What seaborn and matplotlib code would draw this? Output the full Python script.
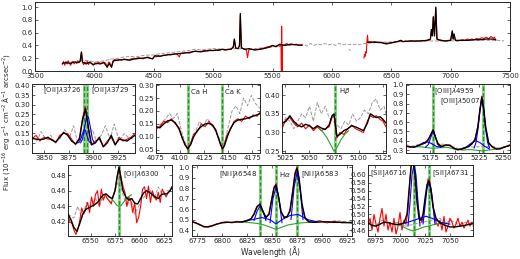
import numpy as np
import matplotlib
matplotlib.use("Agg")
import matplotlib.pyplot as plt
import seaborn as sns

# ---- full spectrum (top panel) ----
top_black1_wl = [3730, 3760, 3800, 3830, 3860, 3880, 3891, 3900, 3930, 3960, 3990, 4020, 4050, 4080, 4108, 4125, 4144, 4160, 4200, 4250,
                 4300, 4340, 4400, 4450, 4490, 4510, 4550, 4600, 4650, 4700, 4750, 4800, 4850, 4900, 4950, 5000, 5050, 5077, 5100, 5150,
                 5170, 5179, 5190, 5210, 5222, 5229, 5238, 5270, 5300, 5350, 5400, 5450, 5500, 5530, 5560, 5600, 5650, 5700, 5750]
top_black1_fl = [0.12, 0.13, 0.12, 0.14, 0.13, 0.15, 0.30, 0.14, 0.11, 0.14, 0.10, 0.12, 0.11, 0.13, 0.06, 0.12, 0.06, 0.16, 0.17, 0.18,
                 0.17, 0.19, 0.20, 0.21, 0.19, 0.24, 0.23, 0.25, 0.26, 0.27, 0.28, 0.29, 0.31, 0.30, 0.32, 0.32, 0.33, 0.34, 0.33, 0.34,
                 0.38, 0.50, 0.36, 0.35, 0.40, 0.90, 0.36, 0.34, 0.35, 0.33, 0.34, 0.36, 0.40, 0.38, 0.42, 0.40, 0.42, 0.41, 0.40]
top_black2_wl = [6300, 6350, 6400, 6450, 6500, 6550, 6579, 6600, 6650, 6700, 6750, 6800, 6830, 6838, 6846, 6854, 6864, 6875, 6885, 6920,
                 6960, 7000, 7014, 7021, 7029, 7040, 7080, 7150, 7200, 7250, 7300, 7350, 7380]
top_black2_fl = [0.45, 0.45, 0.45, 0.43, 0.44, 0.46, 0.48, 0.46, 0.47, 0.47, 0.47, 0.48, 0.50, 0.65, 0.55, 0.85, 0.55, 1.0, 0.50, 0.48,
                 0.47, 0.48, 0.63, 0.50, 0.58, 0.48, 0.48, 0.48, 0.49, 0.49, 0.50, 0.50, 0.49]
top_red1_wl = [3730, 3740, 3750, 3760, 3770, 3780, 3790, 3800, 3810, 3820, 3830, 3840, 3850, 3860, 3870, 3880, 3891, 3900, 3910, 3920,
               3930, 3940, 3950, 3960, 3975, 3990, 4005, 4020, 4035, 4050, 4065, 4080, 4095, 4108, 4120, 4130, 4144, 4155, 4170, 4190,
               4210, 4230, 4250, 4270, 4290, 4310, 4330, 4350, 4370, 4390, 4410, 4430, 4450, 4470, 4490, 4505, 4520, 4540, 4560, 4580,
               4600, 4620, 4640, 4660, 4680, 4700, 4715, 4725, 4750, 4775, 4800, 4825, 4850, 4875, 4900, 4925, 4950, 4975, 5000, 5025,
               5050, 5077, 5100, 5125, 5150, 5170, 5179, 5188, 5210, 5222, 5229, 5238, 5260, 5280, 5290, 5300, 5320, 5350, 5380, 5400,
               5430, 5460, 5480, 5500, 5520, 5540, 5560, 5572, 5575, 5577, 5580, 5583, 5600, 5620, 5640, 5660, 5680, 5700, 5720, 5750]
top_red1_fl = [0.10, 0.15, 0.09, 0.14, 0.11, 0.16, 0.12, 0.09, 0.13, 0.15, 0.11, 0.14, 0.12, 0.16, 0.13, 0.15, 0.29, 0.13, 0.10, 0.14,
               0.12, 0.15, 0.10, 0.13, 0.12, 0.09, 0.13, 0.11, 0.14, 0.12, 0.13, 0.14, 0.12, 0.06, 0.14, 0.13, 0.06, 0.15, 0.18, 0.17,
               0.18, 0.17, 0.19, 0.18, 0.17, 0.19, 0.20, 0.19, 0.21, 0.20, 0.19, 0.21, 0.22, 0.20, 0.19, 0.23, 0.22, 0.24, 0.23, 0.25,
               0.24, 0.26, 0.25, 0.26, 0.27, 0.26, 0.22, 0.27, 0.28, 0.29, 0.28, 0.30, 0.31, 0.30, 0.31, 0.32, 0.31, 0.33, 0.32, 0.33,
               0.32, 0.34, 0.33, 0.34, 0.34, 0.37, 0.50, 0.36, 0.35, 0.40, 0.88, 0.37, 0.34, 0.33, 0.21, 0.33, 0.34, 0.33, 0.34, 0.35,
               0.36, 0.38, 0.37, 0.40, 0.38, 0.40, 0.39, 0.41, 0.0, 0.70, 0.0, 0.40, 0.41, 0.43, 0.40, 0.42, 0.41, 0.42, 0.40, 0.41]
top_red2_wl = [6270, 6275, 6280, 6285, 6290, 6295, 6300, 6305, 6320, 6340, 6360, 6380, 6400, 6420, 6440, 6460, 6480, 6500, 6520, 6540,
               6560, 6580, 6600, 6620, 6640, 6660, 6680, 6700, 6720, 6740, 6760, 6780, 6800, 6820, 6830, 6838, 6846, 6854, 6864, 6875,
               6885, 6900, 6920, 6940, 6960, 6980, 7000, 7014, 7021, 7029, 7040, 7060, 7080, 7100, 7120, 7140, 7160, 7180, 7200, 7220,
               7240, 7260, 7280, 7300, 7320, 7340, 7360, 7370, 7380]
top_red2_fl = [0.20, 0.26, 0.23, 0.30, 0.28, 0.45, 0.56, 0.45, 0.46, 0.45, 0.46, 0.45, 0.44, 0.45, 0.43, 0.42, 0.43, 0.44, 0.45, 0.46,
               0.46, 0.47, 0.46, 0.47, 0.46, 0.47, 0.47, 0.46, 0.47, 0.47, 0.48, 0.47, 0.48, 0.48, 0.50, 0.64, 0.55, 0.84, 0.55, 0.99,
               0.50, 0.48, 0.48, 0.47, 0.47, 0.48, 0.48, 0.62, 0.50, 0.57, 0.48, 0.47, 0.48, 0.49, 0.48, 0.50, 0.49, 0.50, 0.49, 0.51,
               0.50, 0.52, 0.51, 0.53, 0.50, 0.54, 0.51, 0.53, 0.48]
top_gray_wl = [3750, 3800, 3850, 3900, 3950, 4000, 4050, 4100, 4150, 4200, 4250, 4300, 4350, 4400, 4450, 4500, 4550, 4600, 4650, 4700,
               4750, 4800, 4850, 4900, 4950, 5000, 5100, 5200, 5300, 5400, 5500, 5600, 5700, 5760, 5790, 5820, 5850, 5880, 5910, 5940,
               5970, 6000, 6030, 6060, 6090, 6120, 6180, 6210, 6240, 6270, 6400, 6600, 6800, 7000, 7200, 7400, 7450]
top_gray_fl = [0.15, 0.14, 0.15, 0.17, 0.16, 0.14, 0.15, 0.17, 0.19, 0.20, 0.22, 0.23, 0.22, 0.24, 0.25, 0.25, 0.27, 0.28, 0.29, 0.30,
               0.31, 0.32, 0.34, 0.33, 0.34, 0.35, 0.34, 0.35, 0.34, 0.36, 0.38, 0.40, 0.41, 0.42, 0.39, 0.43, 0.40, 0.42, 0.41, 0.43,
               0.41, 0.42, 0.40, 0.43, 0.41, 0.42, 0.41, 0.42, 0.41, 0.43, 0.45, 0.46, 0.47, 0.47, 0.48, 0.48, 0.47]
top_gray_dip_wl = [6145, 6155]
top_gray_dip_fl = [0.34, 0.32]

# ---- [OII] ----
oii_wl = [3838, 3842, 3846, 3850, 3854, 3858, 3862, 3866, 3870, 3874, 3878, 3882, 3886, 3889, 3892, 3895, 3898, 3902, 3906, 3910,
          3914, 3918, 3922, 3926, 3930, 3934, 3938, 3942]
oii_fit = [0.125, 0.12, 0.118, 0.12, 0.13, 0.115, 0.105, 0.13, 0.155, 0.14, 0.11, 0.095, 0.12, 0.22, 0.28, 0.18, 0.09, 0.10, 0.13, 0.08,
           0.10, 0.14, 0.09, 0.12, 0.115, 0.11, 0.125, 0.14]
oii_obs = [0.12, 0.14, 0.11, 0.13, 0.12, 0.12, 0.10, 0.14, 0.15, 0.15, 0.12, 0.09, 0.13, 0.23, 0.29, 0.17, 0.09, 0.11, 0.12, 0.08,
           0.11, 0.13, 0.09, 0.13, 0.11, 0.12, 0.13, 0.15]
oii_gray_wl = [3838, 3843, 3847, 3852, 3857, 3861, 3866, 3871, 3876, 3880, 3884, 3889, 3894, 3899, 3903, 3908, 3912, 3917, 3921, 3926,
               3931, 3935, 3940]
oii_gray_fl = [0.13, 0.11, 0.16, 0.12, 0.14, 0.10, 0.12, 0.17, 0.13, 0.19, 0.10, 0.15, 0.13, 0.17, 0.11, 0.14, 0.19, 0.12, 0.20, 0.11,
               0.15, 0.13, 0.12]
oii_blue1_wl = [3884, 3886, 3888, 3890, 3891, 3892, 3894, 3896, 3898]
oii_blue1_fl = [0.10, 0.105, 0.13, 0.165, 0.17, 0.165, 0.13, 0.105, 0.10]
oii_blue2_wl = [3887, 3889, 3891, 3893, 3894, 3895, 3897, 3899, 3901]
oii_blue2_fl = [0.10, 0.12, 0.18, 0.235, 0.24, 0.235, 0.18, 0.12, 0.10]

# ---- Ca H / Ca K ----
ca_wl = [4075, 4079, 4083, 4087, 4091, 4095, 4099, 4102, 4105, 4108, 4111, 4114, 4118, 4122, 4126, 4130, 4134, 4137, 4140, 4142,
         4144, 4146, 4149, 4152, 4156, 4160, 4164, 4168, 4172, 4176, 4180, 4183]
ca_fit = [0.14, 0.135, 0.15, 0.162, 0.165, 0.155, 0.13, 0.10, 0.07, 0.055, 0.07, 0.10, 0.125, 0.14, 0.15, 0.152, 0.145, 0.125, 0.095, 0.07,
          0.055, 0.065, 0.10, 0.13, 0.155, 0.165, 0.168, 0.17, 0.175, 0.18, 0.185, 0.19]
ca_obs = [0.13, 0.14, 0.16, 0.155, 0.17, 0.15, 0.135, 0.095, 0.075, 0.05, 0.075, 0.11, 0.12, 0.15, 0.14, 0.16, 0.14, 0.13, 0.09, 0.075,
          0.05, 0.07, 0.11, 0.125, 0.16, 0.17, 0.16, 0.18, 0.17, 0.185, 0.18, 0.195]
ca_gray_wl = [4075, 4080, 4085, 4089, 4093, 4097, 4101, 4105, 4108, 4112, 4116, 4120, 4124, 4128, 4133, 4140, 4144, 4147, 4150, 4154,
              4158, 4162, 4166, 4170, 4174, 4178, 4183]
ca_gray_fl = [0.13, 0.15, 0.17, 0.19, 0.17, 0.19, 0.13, 0.08, 0.06, 0.09, 0.12, 0.16, 0.14, 0.17, 0.15, 0.10, 0.06, 0.09, 0.14, 0.20,
              0.22, 0.19, 0.25, 0.22, 0.26, 0.23, 0.21]

# ---- Hbeta ----
hb_wl = [5022, 5026, 5030, 5034, 5038, 5042, 5046, 5050, 5054, 5058, 5062, 5066, 5070, 5073, 5075, 5078, 5081, 5085, 5089, 5093,
         5097, 5101, 5105, 5109, 5112, 5115, 5118, 5122, 5125, 5128]
hb_fit = [0.325, 0.33, 0.345, 0.33, 0.32, 0.315, 0.322, 0.318, 0.31, 0.318, 0.312, 0.308, 0.32, 0.345, 0.35, 0.29, 0.295, 0.305, 0.31, 0.318,
          0.315, 0.31, 0.305, 0.325, 0.35, 0.345, 0.34, 0.342, 0.335, 0.325]
hb_obs = [0.31, 0.335, 0.34, 0.325, 0.315, 0.325, 0.31, 0.32, 0.305, 0.315, 0.305, 0.31, 0.315, 0.34, 0.345, 0.285, 0.30, 0.295, 0.31, 0.32,
          0.31, 0.305, 0.30, 0.33, 0.345, 0.34, 0.345, 0.335, 0.33, 0.315]
hb_gray_wl = [5022, 5026, 5030, 5034, 5038, 5042, 5046, 5050, 5054, 5058, 5062, 5066, 5070, 5082, 5086, 5090, 5094, 5098, 5102, 5106,
              5110, 5114, 5118, 5122, 5126, 5128]
hb_gray_fl = [0.32, 0.34, 0.33, 0.31, 0.33, 0.35, 0.34, 0.37, 0.33, 0.38, 0.35, 0.37, 0.34, 0.31, 0.33, 0.32, 0.35, 0.33, 0.34, 0.36,
              0.35, 0.38, 0.39, 0.36, 0.37, 0.35]
hb_star_wl = [5060, 5064, 5068, 5071, 5073, 5075, 5077, 5079, 5082, 5086, 5090]
hb_star_fl = [0.31, 0.30, 0.285, 0.27, 0.26, 0.25, 0.255, 0.265, 0.28, 0.295, 0.305]

# ---- [OIII] ----
oiii_wl = [5150, 5154, 5158, 5162, 5166, 5170, 5173, 5176, 5178, 5180, 5183, 5187, 5191, 5195, 5199, 5203, 5207, 5211, 5215, 5218,
           5221, 5224, 5226, 5228, 5230, 5232, 5235, 5239, 5243, 5247, 5251, 5255, 5257]
oiii_fit = [0.34, 0.335, 0.33, 0.345, 0.36, 0.38, 0.41, 0.48, 0.52, 0.45, 0.36, 0.34, 0.355, 0.35, 0.32, 0.305, 0.31, 0.325, 0.34, 0.37,
            0.41, 0.55, 0.72, 0.87, 0.74, 0.55, 0.38, 0.33, 0.31, 0.315, 0.33, 0.345, 0.35]
oiii_obs = [0.345, 0.33, 0.335, 0.34, 0.365, 0.375, 0.42, 0.47, 0.51, 0.44, 0.37, 0.335, 0.35, 0.355, 0.325, 0.30, 0.315, 0.32, 0.345, 0.365,
            0.42, 0.56, 0.74, 0.88, 0.73, 0.53, 0.37, 0.335, 0.315, 0.31, 0.335, 0.34, 0.355]
oiii_gray_wl = [5150, 5155, 5160, 5165, 5170, 5190, 5195, 5200, 5205, 5210, 5240, 5245, 5250, 5255, 5257]
oiii_gray_fl = [0.36, 0.34, 0.35, 0.37, 0.38, 0.36, 0.34, 0.33, 0.31, 0.33, 0.34, 0.32, 0.33, 0.35, 0.36]
oiii_star_wl = [5155, 5165, 5172, 5178, 5184, 5192, 5200, 5208, 5216, 5222, 5228, 5234, 5242, 5252]
oiii_star_fl = [0.335, 0.335, 0.325, 0.318, 0.325, 0.33, 0.31, 0.30, 0.305, 0.298, 0.29, 0.298, 0.31, 0.33]
oiii_blue = [
    ([5170, 5173, 5175, 5177, 5178, 5179, 5181, 5183, 5186], [0.33, 0.36, 0.42, 0.48, 0.50, 0.48, 0.42, 0.36, 0.33]),
    ([5158, 5163, 5168, 5172, 5176, 5181, 5186], [0.33, 0.35, 0.38, 0.39, 0.37, 0.34, 0.33]),
    ([5220, 5222, 5224, 5226, 5228, 5230, 5232, 5234, 5236], [0.32, 0.38, 0.52, 0.72, 0.85, 0.72, 0.52, 0.38, 0.32]),
    ([5208, 5213, 5218, 5222, 5226, 5231, 5236], [0.31, 0.34, 0.38, 0.40, 0.38, 0.34, 0.31]),
]

# ---- [OI] ----
oi_wl = [6527, 6530, 6533, 6536, 6539, 6542, 6545, 6548, 6551, 6554, 6557, 6560, 6563, 6566, 6569, 6572, 6575, 6577, 6579, 6581,
         6583, 6586, 6589, 6592, 6595, 6598, 6601, 6604, 6607, 6610, 6613, 6616, 6619, 6622, 6625, 6628, 6631, 6633]
oi_fit = [0.43, 0.423, 0.413, 0.408, 0.418, 0.43, 0.436, 0.438, 0.44, 0.442, 0.445, 0.45, 0.455, 0.456, 0.452, 0.45, 0.46, 0.478, 0.49, 0.475,
          0.46, 0.452, 0.448, 0.45, 0.444, 0.443, 0.45, 0.457, 0.46, 0.458, 0.455, 0.452, 0.45, 0.455, 0.456, 0.456, 0.46, 0.465]
oi_obs_wl = [6527, 6529, 6531, 6533, 6535, 6537, 6539, 6541, 6543, 6545, 6547, 6549, 6551, 6553, 6555, 6557, 6559, 6561, 6563, 6565,
             6567, 6569, 6571, 6573, 6575, 6577, 6579, 6581, 6583, 6585, 6587, 6589, 6591, 6593, 6595, 6597, 6599, 6601, 6603, 6605,
             6607, 6609, 6611, 6613, 6615, 6617, 6619, 6621, 6623, 6625, 6627, 6629, 6631, 6633]
oi_obs = [0.428, 0.42, 0.418, 0.41, 0.404, 0.41, 0.422, 0.438, 0.43, 0.437, 0.445, 0.432, 0.452, 0.44, 0.455, 0.46, 0.44, 0.462, 0.448, 0.455,
          0.45, 0.447, 0.443, 0.452, 0.462, 0.476, 0.49, 0.478, 0.466, 0.458, 0.44, 0.452, 0.447, 0.432, 0.445, 0.419, 0.426, 0.44, 0.462, 0.465,
          0.45, 0.466, 0.445, 0.46, 0.452, 0.448, 0.458, 0.445, 0.462, 0.457, 0.452, 0.458, 0.46, 0.465]
oi_gray_wl = [6527, 6533, 6537, 6541, 6546, 6550, 6555, 6559, 6563, 6567, 6571, 6575, 6579, 6583, 6587, 6591, 6595, 6599, 6603, 6607,
              6611, 6615, 6619, 6623, 6627, 6631]
oi_gray_fl = [0.43, 0.425, 0.44, 0.425, 0.445, 0.44, 0.45, 0.44, 0.455, 0.45, 0.445, 0.46, 0.475, 0.455, 0.44, 0.45, 0.43, 0.44, 0.45, 0.455,
              0.46, 0.45, 0.465, 0.455, 0.46, 0.46]
oi_star_wl = [6566, 6570, 6574, 6577, 6579, 6581, 6584, 6588, 6592]
oi_star_fl = [0.455, 0.452, 0.446, 0.441, 0.44, 0.441, 0.446, 0.452, 0.455]

# ---- Halpha + [NII] ----
ha_wl = [6770, 6774, 6778, 6782, 6786, 6790, 6795, 6800, 6805, 6810, 6815, 6820, 6825, 6829, 6832, 6835, 6838, 6841, 6844, 6847,
         6850, 6852, 6854, 6856, 6859, 6862, 6865, 6868, 6871, 6873, 6875, 6877, 6880, 6883, 6887, 6892, 6898, 6905, 6912, 6920, 6930]
ha_fit = [0.48, 0.47, 0.45, 0.435, 0.43, 0.44, 0.46, 0.47, 0.475, 0.475, 0.478, 0.48, 0.49, 0.51, 0.55, 0.62, 0.65, 0.58, 0.52, 0.55,
          0.70, 0.80, 0.83, 0.75, 0.58, 0.52, 0.53, 0.58, 0.78, 0.93, 0.99, 0.90, 0.65, 0.52, 0.48, 0.475, 0.478, 0.48, 0.475, 0.475, 0.47]
ha_obs = [0.485, 0.465, 0.455, 0.43, 0.435, 0.445, 0.455, 0.475, 0.48, 0.47, 0.485, 0.475, 0.495, 0.505, 0.56, 0.63, 0.64, 0.57, 0.525, 0.56,
          0.72, 0.81, 0.84, 0.74, 0.57, 0.53, 0.52, 0.60, 0.80, 0.95, 1.0, 0.88, 0.63, 0.51, 0.475, 0.48, 0.49, 0.47, 0.485, 0.47, 0.475]
ha_gray_wl = [6895, 6905, 6915, 6925, 6930]
ha_gray_fl = [0.485, 0.48, 0.49, 0.48, 0.475]
ha_star_wl = [6815, 6825, 6835, 6842, 6848, 6852, 6854, 6856, 6860, 6866, 6875, 6885, 6895]
ha_star_fl = [0.48, 0.475, 0.465, 0.45, 0.43, 0.415, 0.41, 0.415, 0.43, 0.45, 0.465, 0.475, 0.48]
ha_blue = [
    ([6832, 6835, 6838, 6841, 6844], [0.49, 0.58, 0.63, 0.58, 0.49]),
    ([6848, 6851, 6854, 6857, 6860], [0.47, 0.70, 0.81, 0.70, 0.47]),
    ([6869, 6872, 6875, 6878, 6881], [0.50, 0.80, 0.95, 0.80, 0.50]),
    ([6820, 6830, 6840, 6848, 6854, 6860, 6868, 6876, 6886, 6895], [0.48, 0.50, 0.52, 0.50, 0.46, 0.50, 0.54, 0.55, 0.50, 0.48]),
]

# ---- [SII] ----
sii_wl = [6968, 6972, 6976, 6980, 6984, 6988, 6992, 6996, 7000, 7004, 7007, 7009, 7011, 7013, 7015, 7017, 7019, 7021, 7023, 7025,
          7027, 7029, 7031, 7033, 7036, 7040, 7045, 7050, 7055, 7060, 7065, 7070, 7073]
sii_fit = [0.478, 0.472, 0.47, 0.475, 0.48, 0.479, 0.476, 0.474, 0.475, 0.478, 0.50, 0.56, 0.62, 0.64, 0.60, 0.53, 0.49, 0.485, 0.50, 0.54,
           0.575, 0.585, 0.56, 0.52, 0.49, 0.478, 0.472, 0.468, 0.468, 0.47, 0.472, 0.475, 0.476]
sii_obs_wl = [6968, 6970, 6972, 6974, 6976, 6978, 6980, 6982, 6984, 6986, 6988, 6990, 6992, 6994, 6996, 6998, 7000, 7002, 7004, 7006,
              7008, 7010, 7012, 7014, 7016, 7018, 7020, 7022, 7024, 7026, 7028, 7030, 7032, 7034, 7036, 7038, 7040, 7042, 7044, 7046,
              7048, 7050, 7052, 7054, 7056, 7058, 7060, 7062, 7064, 7066, 7068, 7070, 7072]
sii_obs = [0.47, 0.49, 0.46, 0.50, 0.475, 0.455, 0.49, 0.515, 0.47, 0.50, 0.46, 0.48, 0.455, 0.49, 0.45, 0.47, 0.505, 0.46, 0.485, 0.475,
           0.51, 0.59, 0.64, 0.63, 0.58, 0.52, 0.49, 0.48, 0.51, 0.55, 0.59, 0.58, 0.55, 0.50, 0.48, 0.47, 0.485, 0.46, 0.495, 0.455,
           0.47, 0.49, 0.48, 0.465, 0.475, 0.49, 0.47, 0.48, 0.465, 0.475, 0.485, 0.47, 0.48]
sii_gray_wl = [6968, 6975, 6982, 6990, 6998, 7005, 7040, 7045, 7050, 7055, 7060, 7065, 7070, 7073]
sii_gray_fl = [0.48, 0.47, 0.485, 0.475, 0.48, 0.47, 0.49, 0.475, 0.485, 0.48, 0.47, 0.48, 0.475, 0.47]
sii_star_wl = [6995, 7002, 7008, 7013, 7018, 7024, 7029, 7035, 7045]
sii_star_fl = [0.475, 0.47, 0.462, 0.458, 0.462, 0.468, 0.47, 0.475, 0.478]
sii_blue = [
    ([7008, 7010, 7012, 7014, 7016, 7018, 7020], [0.47, 0.53, 0.60, 0.625, 0.60, 0.53, 0.47]),
    ([7023, 7025, 7027, 7029, 7031, 7033, 7035], [0.475, 0.52, 0.565, 0.58, 0.565, 0.52, 0.475]),
    ([7000, 7008, 7014, 7020, 7026, 7032, 7040, 7050], [0.475, 0.48, 0.485, 0.49, 0.495, 0.49, 0.48, 0.475]),
]

# redshifted line centres
oii_lines = [3891, 3894]
ca_lines = [4108, 4144]
hb_lines = [5076]
oiii_lines = [5178, 5229]
oi_lines = [6579]
ha_lines = [6838, 6854, 6875]
sii_lines = [7014, 7029]

sns.set_style("ticks")
plt.rcParams.update({
    "font.family": ["DejaVu Sans"],
    "xtick.direction": "in", "ytick.direction": "in",
    "xtick.top": True, "ytick.right": True,
    "xtick.major.size": 2.5, "ytick.major.size": 2.5,
    "xtick.major.width": 0.5, "ytick.major.width": 0.5,
    "xtick.major.pad": 1.5, "ytick.major.pad": 1.5,
    "xtick.labelsize": 5, "ytick.labelsize": 5,
    "axes.linewidth": 0.7,
})

RED, GRAY, BLUE, GREEN = "#ff0000", "#9a9a9a", "#0000ff", "#2e8b2e"


def line(ax, x, y, color, lw=0.8, ls="-", z=2):
    sns.lineplot(x=x, y=y, ax=ax, color=color, lw=lw, linestyle=ls, sort=False,
                 estimator=None, legend=False, zorder=z)


def vlines(ax, xs):
    for x in xs:
        ax.axvline(x, color="#8fd88f", lw=2.2, zorder=1)
        ax.axvline(x, color=GREEN, lw=1.0, ls="--", dashes=(3, 1.5), zorder=1.5)


def panel(ax, xlim, ylim, xticks, yticks, yfmt):
    ax.set_xlim(*xlim)
    ax.set_ylim(*ylim)
    ax.set_xticks(xticks)
    ax.set_yticks(yticks)
    ax.set_yticklabels([yfmt.format(v) for v in yticks])
    ax.set_xlabel("")
    ax.set_ylabel("")


fig = plt.figure(figsize=(5.2, 2.59), dpi=100)
W, H = 520.0, 259.0


def box(x0, x1, y0, y1):
    return [x0 / W, 1 - y1 / H, (x1 - x0) / W, (y1 - y0) / H]


# top panel
ax = fig.add_axes(box(35, 510, 2, 71))
line(ax, top_gray_wl, top_gray_fl, GRAY, 0.7, "--")
line(ax, top_gray_dip_wl, top_gray_dip_fl, GRAY, 0.7, "-")
line(ax, top_red1_wl, top_red1_fl, RED, 0.8)
line(ax, top_red2_wl, top_red2_fl, RED, 0.8)
line(ax, top_black1_wl, top_black1_fl, "black", 0.9, z=3)
line(ax, top_black2_wl, top_black2_fl, "black", 0.9, z=3)
panel(ax, (3500, 7500), (0, 1.08), [3500, 4000, 4500, 5000, 5500, 6000, 6500, 7000, 7500],
      [0.0, 0.2, 0.4, 0.6, 0.8, 1.0], "{:.1f}")

label_kw = dict(fontsize=5, va="center", zorder=5)

panels = [
    dict(b=(32, 135, 84, 153), wl=oii_wl, obs_wl=oii_wl, obs=oii_obs, fit=oii_fit, gray=(oii_gray_wl, oii_gray_fl),
         star=None, blue=[(oii_blue1_wl, oii_blue1_fl), (oii_blue2_wl, oii_blue2_fl)], lines=oii_lines,
         xlim=(3838, 3942), ylim=(0.047, 0.41), xt=[3850, 3875, 3900, 3925],
         yt=[0.10, 0.15, 0.20, 0.25, 0.30, 0.35, 0.40], fmt="{:.2f}",
         labels=[(3888, 0.375, "[OII]$\\lambda$3726", "right"), (3898, 0.375, "[OII]$\\lambda$3729", "left")]),
    dict(b=(156, 260, 84, 153), wl=ca_wl, obs_wl=ca_wl, obs=ca_obs, fit=ca_fit, gray=(ca_gray_wl, ca_gray_fl),
         star=None, blue=[], lines=ca_lines,
         xlim=(4075, 4183), ylim=(0.038, 0.304), xt=[4075, 4100, 4125, 4150, 4175],
         yt=[0.05, 0.10, 0.15, 0.20, 0.25, 0.30], fmt="{:.2f}",
         labels=[(4111, 0.272, "Ca H", "left"), (4147, 0.272, "Ca K", "left")]),
    dict(b=(282, 386, 84, 153), wl=hb_wl, obs_wl=hb_wl, obs=hb_obs, fit=hb_fit, gray=(hb_gray_wl, hb_gray_fl),
         star=(hb_star_wl, hb_star_fl), blue=[], lines=hb_lines,
         xlim=(5022, 5128), ylim=(0.245, 0.43), xt=[5025, 5050, 5075, 5100, 5125],
         yt=[0.25, 0.30, 0.35, 0.40], fmt="{:.2f}",
         labels=[(5080, 0.41, "H$\\beta$", "left")]),
    dict(b=(406, 510, 84, 153), wl=oiii_wl, obs_wl=oiii_wl, obs=oiii_obs, fit=oiii_fit, gray=(oiii_gray_wl, oiii_gray_fl),
         star=(oiii_star_wl, oiii_star_fl), blue=oiii_blue, lines=oiii_lines,
         xlim=(5150, 5257), ylim=(0.268, 1.01), xt=[5175, 5200, 5225, 5250],
         yt=[0.3, 0.4, 0.5, 0.6, 0.7, 0.8, 0.9, 1.0], fmt="{:.1f}",
         labels=[(5179, 0.93, "[OIII]$\\lambda$4959", "left"), (5227, 0.82, "[OIII]$\\lambda$5007", "right")]),
    dict(b=(68, 172, 165, 236), wl=oi_wl, obs_wl=oi_obs_wl, obs=oi_obs, fit=oi_fit, gray=(oi_gray_wl, oi_gray_fl),
         star=(oi_star_wl, oi_star_fl), blue=[], lines=oi_lines,
         xlim=(6527, 6633), ylim=(0.402, 0.493), xt=[6550, 6575, 6600, 6625],
         yt=[0.42, 0.44, 0.46, 0.48], fmt="{:.2f}",
         labels=[(6583, 0.481, "[OI]$\\lambda$6300", "left")]),
    dict(b=(192, 352, 165, 236), wl=ha_wl, obs_wl=ha_wl, obs=ha_obs, fit=ha_fit, gray=(ha_gray_wl, ha_gray_fl),
         star=(ha_star_wl, ha_star_fl), blue=ha_blue, lines=ha_lines,
         xlim=(6770, 6930), ylim=(0.345, 1.02), xt=[6775, 6800, 6825, 6850, 6875, 6900, 6925],
         yt=[0.4, 0.5, 0.6, 0.7, 0.8, 0.9, 1.0], fmt="{:.1f}",
         labels=[(6835, 0.93, "[NII]$\\lambda$6548", "right"), (6857, 0.93, "H$\\alpha$", "left"),
                 (6879, 0.93, "[NII]$\\lambda$6583", "left")]),
    dict(b=(368, 473, 165, 236), wl=sii_wl, obs_wl=sii_obs_wl, obs=sii_obs, fit=sii_fit, gray=(sii_gray_wl, sii_gray_fl),
         star=(sii_star_wl, sii_star_fl), blue=sii_blue, lines=sii_lines,
         xlim=(6968, 7073), ylim=(0.445, 0.625), xt=[6975, 7000, 7025, 7050],
         yt=[0.46, 0.48, 0.50, 0.52, 0.54, 0.56, 0.58, 0.60], fmt="{:.2f}",
         labels=[(6970, 0.603, "[SII]$\\lambda$6716", "left"), (7032, 0.603, "[SII]$\\lambda$6731", "left")]),
]

for p in panels:
    ax = fig.add_axes(box(*p["b"]))
    vlines(ax, p["lines"])
    line(ax, p["gray"][0], p["gray"][1], GRAY, 0.7, "--")
    line(ax, p["obs_wl"], p["obs"], RED, 0.8)
    if p["star"] is not None:
        line(ax, p["star"][0], p["star"][1], "#2ca02c", 0.8)
    for bx, by in p["blue"]:
        line(ax, bx, by, BLUE, 0.8)
    line(ax, p["wl"], p["fit"], "black", 1.0, z=3)
    panel(ax, p["xlim"], p["ylim"], p["xt"], p["yt"], p["fmt"])
    for x, y, s, ha in p["labels"]:
        ax.text(x, y, s, ha=ha, **label_kw)

fig.text(0.012, 0.53, "Flux (10$^{-16}$ erg s$^{-1}$ cm$^{-2}$ $\\mathrm{\\AA}^{-1}$ arcsec$^{-2}$)",
         rotation=90, ha="center", va="center", fontsize=5)
fig.text(0.52, 0.0, "Wavelength ($\\mathrm{\\AA}$)", ha="center", va="bottom", fontsize=5.5)

fig.savefig("out.png", dpi=100)
